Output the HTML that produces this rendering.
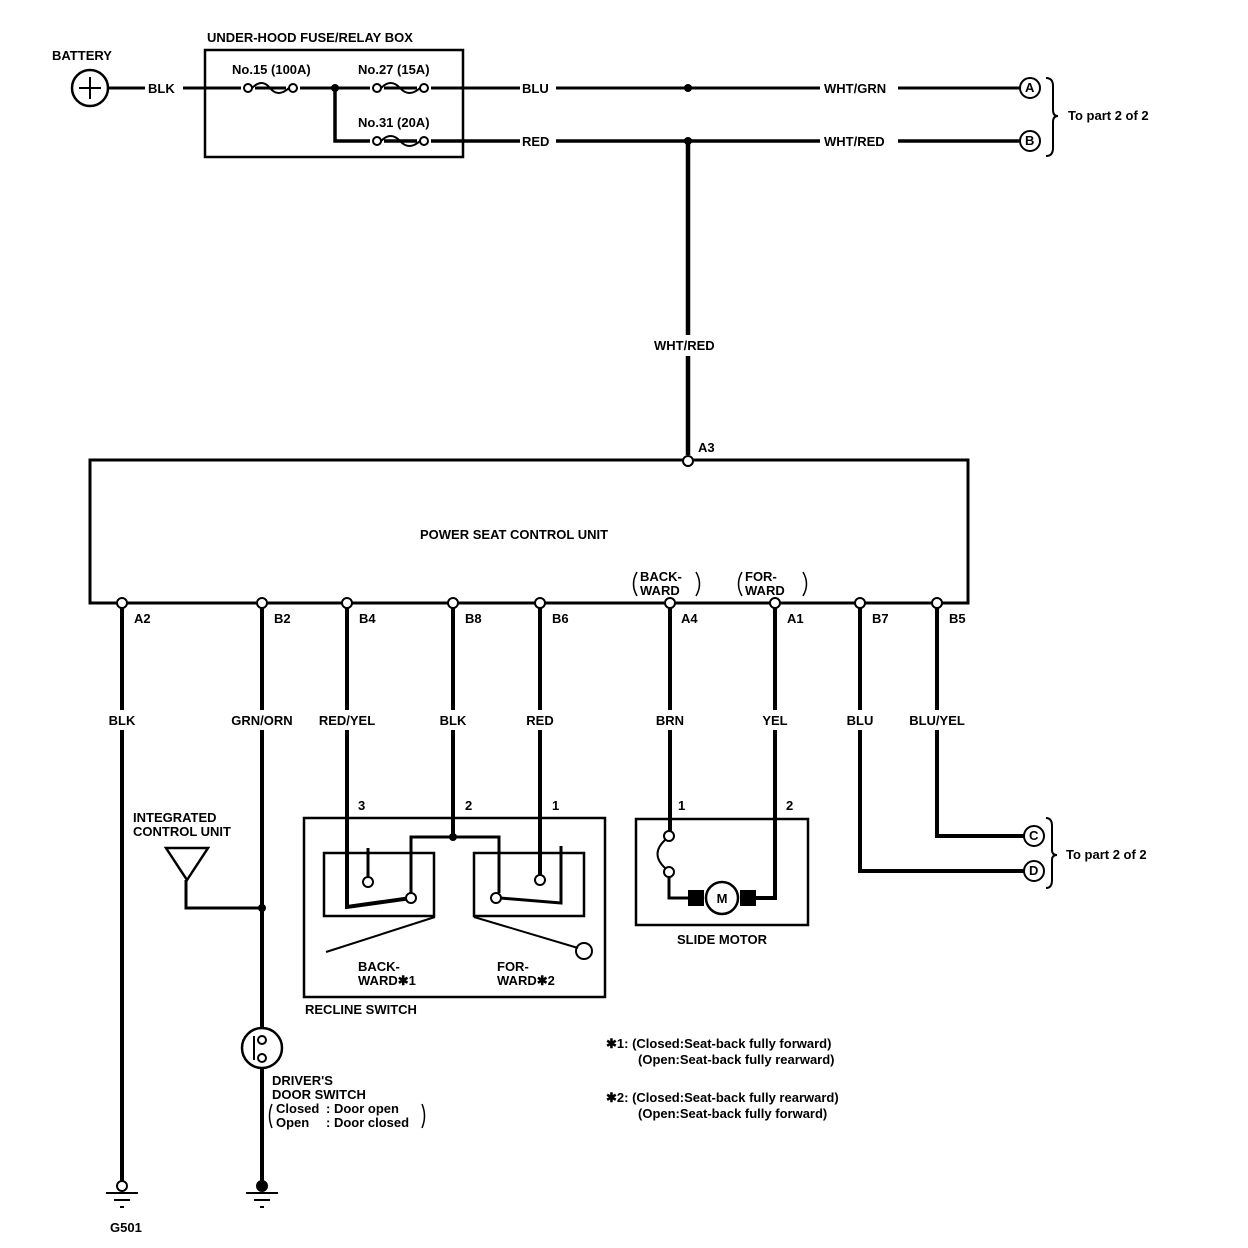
<!DOCTYPE html>
<html><head><meta charset="utf-8"><style>
html,body{margin:0;padding:0;background:#fff}
svg{display:block}
text{font-family:"Liberation Sans",sans-serif;font-weight:bold;font-size:13px;fill:#000}
</style></head><body>
<svg width="1248" height="1248" viewBox="0 0 1248 1248" xmlns="http://www.w3.org/2000/svg">
<g stroke="#000" fill="none" stroke-width="3">
<circle cx="90" cy="88" r="18" stroke-width="2.5"/>
<path d="M79 88H101M90 77V99" stroke-width="2"/>
<path d="M108 88H145M183 88H241M255 88H286M300 88H370M384 88H417M431 88H520M556 88H820M898 88H1019"/>
<rect x="205" y="50" width="258" height="107" stroke-width="2.5"/>
<circle cx="248" cy="88" r="4" stroke-width="2"/><circle cx="293" cy="88" r="4" stroke-width="2"/>
<path d="M252 88 Q262 78 270 88 Q278 98 289 88" stroke-width="2"/>
<circle cx="377" cy="88" r="4" stroke-width="2"/><circle cx="424" cy="88" r="4" stroke-width="2"/>
<path d="M381 88 Q391 78 400 88 Q409 98 420 88" stroke-width="2"/>
<path d="M335 88V141H370M384 141H417M431 141H520M556 141H820M898 141H1019" stroke-width="3.5"/>
<circle cx="377" cy="141" r="4" stroke-width="2"/><circle cx="424" cy="141" r="4" stroke-width="2"/>
<path d="M381 141 Q391 131 400 141 Q409 151 420 141" stroke-width="2"/>
<circle cx="1030" cy="88" r="10" stroke-width="2"/><circle cx="1030" cy="141" r="10" stroke-width="2"/>
<path d="M1046 78 Q1053 78 1053 86 V110 Q1053 116 1058 116 Q1053 116 1053 122 V148 Q1053 156 1046 156" stroke-width="2"/>
<path d="M688 141V335M688 356V455" stroke-width="4.5"/>
<rect x="90" y="460" width="878" height="143" stroke-width="3"/>
<path d="M122 608V710M122 730V1181" stroke-width="4"/>
<path d="M262 608V710M262 730V1028M262 1068V1181" stroke-width="4"/>
<path d="M347 608V710M347 730V907L411 898" stroke-width="4"/>
<path d="M453 608V710M453 730V837" stroke-width="4"/>
<path d="M540 608V710M540 730V876" stroke-width="4"/>
<path d="M670 608V710M670 730V832" stroke-width="4"/>
<path d="M775 608V710M775 730V898H755" stroke-width="4"/>
<path d="M860 608V710M860 730V871H1024" stroke-width="4"/>
<path d="M937 608V710M937 730V836H1024" stroke-width="4"/>
<rect x="304" y="818" width="301" height="179" stroke-width="2.5"/>
<path d="M324 916V853H434V916H324Z" stroke-width="2.5"/>
<path d="M474 916V853H584V916H474Z" stroke-width="2.5"/>
<path d="M411 893V837H499V893" stroke-width="3"/>
<path d="M368 848V877M561 846V903L500 898" stroke-width="3"/>
<circle cx="368" cy="882" r="5" fill="#fff" stroke-width="2"/>
<circle cx="411" cy="898" r="5" fill="#fff" stroke-width="2"/>
<circle cx="540" cy="880" r="5" fill="#fff" stroke-width="2"/>
<circle cx="496" cy="898" r="5" fill="#fff" stroke-width="2"/>
<path d="M435 917L326 952M474 917L578 948" stroke-width="2"/>
<circle cx="584" cy="951" r="8" stroke-width="2"/>
<rect x="636" y="819" width="172" height="106" stroke-width="2.5"/>
<circle cx="669" cy="836" r="5" fill="#fff" stroke-width="2"/>
<circle cx="669" cy="872" r="5" fill="#fff" stroke-width="2"/>
<path d="M665 840 Q650 854 665 868" stroke-width="2"/>
<path d="M669 877V898H690" stroke-width="3"/>
<circle cx="722" cy="898" r="16" stroke-width="2.5"/>
<path d="M166 848H208L187 880Z" stroke-width="2.5"/>
<path d="M186 880V908H262" stroke-width="3"/>
<circle cx="262" cy="1048" r="20" stroke-width="2.5"/>
<path d="M254 1036V1060" stroke-width="2"/>
<circle cx="262" cy="1040" r="4" fill="#fff" stroke-width="2"/>
<circle cx="262" cy="1058" r="4" fill="#fff" stroke-width="2"/>
<path d="M272 1104 Q267 1116 272 1128M422 1104 Q427 1116 422 1128" stroke-width="1.5"/>
<circle cx="122" cy="1186" r="5" fill="#fff" stroke-width="2"/>
<path d="M106 1193H138M114 1200H130M120 1207H124" stroke-width="2"/>
<path d="M246 1193H278M254 1200H270M260 1207H264" stroke-width="2"/>
<path d="M1046 818 Q1052 818 1052 826 V850 Q1052 855 1057 855 Q1052 855 1052 860 V880 Q1052 888 1046 888" stroke-width="2"/>
<circle cx="1034" cy="836" r="10" stroke-width="2"/>
<circle cx="1034" cy="871" r="10" stroke-width="2"/>
<path d="M637 572 Q630 584 637 596M696 572 Q703 584 696 596M742 572 Q735 584 742 596M803 572 Q810 584 803 596" stroke-width="1.5"/>
</g>
<g fill="#000">
<circle cx="335" cy="88" r="4"/><circle cx="688" cy="88" r="4"/><circle cx="688" cy="141" r="4"/>
<circle cx="453" cy="837" r="4"/><circle cx="262" cy="908" r="4"/><circle cx="262" cy="1186" r="6"/>
<rect x="688" y="890" width="16" height="16"/><rect x="740" y="890" width="16" height="16"/>
</g>
<g fill="#fff" stroke="#000" stroke-width="2">
<circle cx="688" cy="461" r="5"/>
<circle cx="122" cy="603" r="5"/><circle cx="262" cy="603" r="5"/><circle cx="347" cy="603" r="5"/>
<circle cx="453" cy="603" r="5"/><circle cx="540" cy="603" r="5"/><circle cx="670" cy="603" r="5"/>
<circle cx="775" cy="603" r="5"/><circle cx="860" cy="603" r="5"/><circle cx="937" cy="603" r="5"/>
</g>
<text x="52" y="60">BATTERY</text>
<text x="148" y="93">BLK</text>
<text x="207" y="42">UNDER-HOOD FUSE/RELAY BOX</text>
<text x="232" y="74">No.15 (100A)</text>
<text x="358" y="74">No.27 (15A)</text>
<text x="358" y="127">No.31 (20A)</text>
<text x="522" y="93">BLU</text>
<text x="522" y="146">RED</text>
<text x="824" y="93">WHT/GRN</text>
<text x="824" y="146">WHT/RED</text>
<text x="1025" y="92" font-size="11">A</text>
<text x="1025" y="145" font-size="11">B</text>
<text x="1068" y="120" font-size="16">To part 2 of 2</text>
<text x="654" y="350">WHT/RED</text>
<text x="698" y="452">A3</text>
<text x="420" y="539">POWER SEAT CONTROL UNIT</text>
<text x="640" y="581">BACK-</text><text x="640" y="595">WARD</text>
<text x="745" y="581">FOR-</text><text x="745" y="595">WARD</text>
<g>
<text x="134" y="623">A2</text><text x="274" y="623">B2</text><text x="359" y="623">B4</text>
<text x="465" y="623">B8</text><text x="552" y="623">B6</text><text x="681" y="623">A4</text>
<text x="787" y="623">A1</text><text x="872" y="623">B7</text><text x="949" y="623">B5</text>
</g>
<g text-anchor="middle">
<text x="122" y="725">BLK</text><text x="262" y="725">GRN/ORN</text><text x="347" y="725">RED/YEL</text>
<text x="453" y="725">BLK</text><text x="540" y="725">RED</text><text x="670" y="725">BRN</text>
<text x="775" y="725">YEL</text><text x="860" y="725">BLU</text><text x="937" y="725">BLU/YEL</text>
<text x="722" y="944">SLIDE MOTOR</text>
</g>
<text x="358" y="810">3</text><text x="465" y="810">2</text><text x="552" y="810">1</text>
<text x="678" y="810">1</text><text x="786" y="810">2</text>
<text x="358" y="971">BACK-</text><text x="358" y="985">WARD✱1</text>
<text x="497" y="971">FOR-</text><text x="497" y="985">WARD✱2</text>
<text x="305" y="1014">RECLINE SWITCH</text>
<text x="133" y="822">INTEGRATED</text><text x="133" y="836">CONTROL UNIT</text>
<text x="272" y="1085">DRIVER'S</text><text x="272" y="1099">DOOR SWITCH</text>
<text x="276" y="1113" font-weight="normal">Closed</text><text x="326" y="1113" font-weight="normal">: Door open</text>
<text x="276" y="1127" font-weight="normal">Open</text><text x="326" y="1127" font-weight="normal">: Door closed</text>
<text x="110" y="1232">G501</text>
<text x="1029" y="840" font-size="11">C</text>
<text x="1029" y="875" font-size="11">D</text>
<text x="1066" y="859" font-size="16">To part 2 of 2</text>
<text x="606" y="1048" font-size="12">✱1: (Closed:Seat-back fully forward)</text>
<text x="638" y="1064" font-size="12">(Open:Seat-back fully rearward)</text>
<text x="606" y="1102" font-size="12">✱2: (Closed:Seat-back fully rearward)</text>
<text x="638" y="1118" font-size="12">(Open:Seat-back fully forward)</text>
<text x="722" y="903" text-anchor="middle" font-size="13">M</text>
</svg>
</body></html>
